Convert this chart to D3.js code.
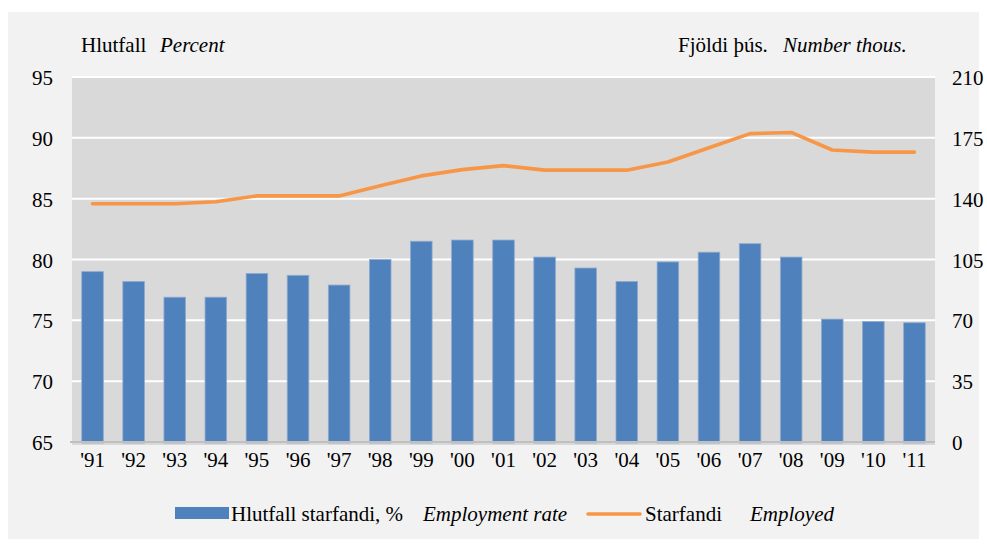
<!DOCTYPE html>
<html>
<head>
<meta charset="utf-8">
<script src="https://cdn.jsdelivr.net/npm/d3@7/dist/d3.min.js"></script>
<style>
  html, body { margin: 0; padding: 0; background: #ffffff; }
  svg { display: block; }
  svg text { font-family: "Liberation Serif", "Times New Roman", serif !important; fill: #000; }
</style>
</head>
<body>
<svg id="chart" width="987" height="545"></svg>
<script>
// ---- Data ----
const years = ["'91","'92","'93","'94","'95","'96","'97","'98","'99","'00","'01",
               "'02","'03","'04","'05","'06","'07","'08","'09","'10","'11"];
const employmentRate = [79.0, 78.2, 76.9, 76.9, 78.85, 78.7, 77.9, 80.0, 81.5, 81.6, 81.6,
                        80.2, 79.3, 78.2, 79.8, 80.6, 81.3, 80.2, 75.1, 74.9, 74.8];
const employedThous = [137.1, 137.1, 137.1, 138.2, 141.6, 141.6, 141.6, 147.4, 153.1, 156.7, 159.0,
                       156.4, 156.4, 156.4, 161.1, 169.3, 177.4, 178.1, 168.0, 166.8, 166.8];
const leftTicks = [65, 70, 75, 80, 85, 90, 95];
const rightTicks = [0, 35, 70, 105, 140, 175, 210];
const seriesNames = {
  bar: ["Hlutfall starfandi, %", "Employment rate"],
  line: ["Starfandi", "Employed"]
};
const axisTitles = {
  left: ["Hlutfall", "Percent"],
  right: ["Fjöldi þús.", "Number thous."]
};

// ---- Layout ----
const svg = d3.select("#chart").attr("font-family", "Liberation Serif");
const plot = { left: 72, right: 935, top: 77, bottom: 442 };
const barColor = "#4f81bd", lineColor = "#f79646";
const FONT = "Liberation Serif";

// outer panel
svg.append("rect").attr("x", 8).attr("y", 12).attr("width", 971).attr("height", 527)
  .attr("fill", "#f2f2f2");

// plot background
svg.append("rect").attr("x", plot.left).attr("y", plot.top)
  .attr("width", plot.right - plot.left).attr("height", plot.bottom - plot.top + 3)
  .attr("fill", "#d9d9d9");

// scales
const x = d3.scaleBand().domain(years).range([plot.left, plot.right])
  .paddingInner(0.475).paddingOuter(0.2375);
const yL = d3.scaleLinear().domain([65, 95]).range([plot.bottom, plot.top]);
const yR = d3.scaleLinear().domain([0, 210]).range([plot.bottom, plot.top]);

// gridlines
svg.append("g").selectAll("line").data(leftTicks.filter(d => d > 65)).join("line")
  .attr("x1", plot.left).attr("x2", plot.right)
  .attr("y1", d => yL(d)).attr("y2", d => yL(d))
  .attr("stroke", "#ffffff").attr("stroke-width", 2);

// bars
svg.append("g").selectAll("rect").data(years).join("rect")
  .attr("x", d => x(d))
  .attr("width", x.bandwidth())
  .attr("y", (d, i) => yL(employmentRate[i]))
  .attr("height", (d, i) => yL(65) - yL(employmentRate[i]) + 1)
  .attr("fill", barColor)
  .attr("stroke", "#8eaad0").attr("stroke-width", 0.8);

// bottom axis line
svg.append("line").attr("x1", plot.left - 2).attr("x2", plot.right)
  .attr("y1", plot.bottom).attr("y2", plot.bottom)
  .attr("stroke", "#bfbfbf").attr("stroke-width", 2);

// line
const line = d3.line()
  .x((d, i) => x(years[i]) + x.bandwidth() / 2)
  .y(d => yR(d));
svg.append("path").datum(employedThous)
  .attr("d", line)
  .attr("fill", "none").attr("stroke", lineColor)
  .attr("stroke-width", 3.6).attr("stroke-linecap", "round").attr("stroke-linejoin", "round");

// axes (labels only)
const fs = 21;
const leftAxis = d3.axisLeft(yL).tickValues(leftTicks).tickSize(0).tickPadding(0);
const gL = svg.append("g").attr("transform", `translate(${53},0)`).call(leftAxis)
  .attr("font-family", FONT).attr("font-size", fs);
gL.select(".domain").remove();
gL.selectAll("text").attr("fill", "#000").attr("dy", "0.36em");

const rightAxis = d3.axisRight(yR).tickValues(rightTicks).tickSize(0).tickPadding(0);
const gR = svg.append("g").attr("transform", `translate(${952},0)`).call(rightAxis)
  .attr("font-family", FONT).attr("font-size", fs);
gR.select(".domain").remove();
gR.selectAll("text").attr("fill", "#000").attr("dy", "0.36em");

const bottomAxis = d3.axisBottom(x).tickSize(0).tickPadding(0);
const gB = svg.append("g").attr("transform", `translate(0,${467})`).call(bottomAxis)
  .attr("font-family", FONT).attr("font-size", fs);
gB.select(".domain").remove();
gB.selectAll("text").attr("fill", "#000").attr("dy", "0");

// axis titles
const tL = svg.append("text").attr("x", 81).attr("y", 52).attr("font-size", fs);
tL.append("tspan").text(axisTitles.left[0]);
tL.append("tspan").attr("x", 160).attr("font-style", "italic").text(axisTitles.left[1]);

const tR = svg.append("text").attr("x", 678).attr("y", 52).attr("font-size", fs);
tR.append("tspan").text(axisTitles.right[0]);
tR.append("tspan").attr("x", 783).attr("font-style", "italic").text(axisTitles.right[1]);

// legend
const lg = svg.append("g");
lg.append("rect").attr("x", 175).attr("y", 507).attr("width", 54).attr("height", 12).attr("fill", barColor);
const lt1 = lg.append("text").attr("x", 231).attr("y", 521).attr("font-size", fs);
lt1.append("tspan").text(seriesNames.bar[0]);
lt1.append("tspan").attr("x", 423).attr("font-style", "italic").text(seriesNames.bar[1]);
lg.append("line").attr("x1", 588).attr("x2", 640).attr("y1", 514).attr("y2", 514)
  .attr("stroke", lineColor).attr("stroke-width", 3.6).attr("stroke-linecap", "round");
const lt2 = lg.append("text").attr("x", 645).attr("y", 521).attr("font-size", fs);
lt2.append("tspan").text(seriesNames.line[0]);
lt2.append("tspan").attr("x", 750).attr("font-style", "italic").text(seriesNames.line[1]);
</script>
</body>
</html>
